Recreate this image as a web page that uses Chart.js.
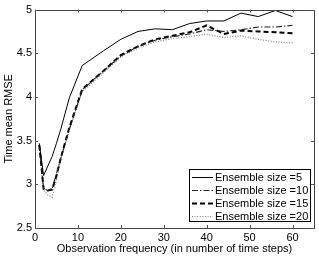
<!DOCTYPE html>
<html>
<head>
<meta charset="utf-8">
<script src="https://cdn.jsdelivr.net/npm/chart.js@4/dist/chart.umd.min.js"></script>
<style>
  html, body { margin: 0; padding: 0; background: #fff; }
  #c { display: block; }
</style>
</head>
<body>
<canvas id="c" width="319" height="256"></canvas>
<script>
// ---- data ----
const xs = [1, 2, 3, 4, 5, 6, 8, 11, 16, 20, 24, 28, 32, 36, 40, 44, 48, 52, 56, 60];
const ens5  = [3.47, 3.10, 3.21, 3.32, 3.47, 3.63, 3.99, 4.36, 4.53, 4.66, 4.75, 4.78, 4.77, 4.84, 4.87, 4.87, 4.96, 4.92, 4.99, 4.92];
const ens10 = [3.45, 2.95, 2.93, 2.95, 3.12, 3.30, 3.63, 4.08, 4.30, 4.47, 4.58, 4.65, 4.69, 4.72, 4.77, 4.75, 4.77, 4.80, 4.80, 4.82];
const ens15 = [3.45, 2.95, 2.93, 2.94, 3.10, 3.30, 3.65, 4.09, 4.30, 4.48, 4.58, 4.66, 4.70, 4.74, 4.82, 4.72, 4.76, 4.75, 4.74, 4.73];
const ens20 = [3.43, 2.93, 2.88, 2.85, 3.05, 3.28, 3.62, 4.06, 4.28, 4.46, 4.56, 4.63, 4.67, 4.69, 4.72, 4.68, 4.70, 4.66, 4.63, 4.62];
const seriesLabels = ['Ensemble size =5', 'Ensemble size =10', 'Ensemble size =15', 'Ensemble size =20'];
const xTicks = [0, 10, 20, 30, 40, 50, 60];
const xTickLabels = ['0', '10', '20', '30', '40', '50', '60'];
const yTicks = [2.5, 3, 3.5, 4, 4.5, 5];
const yTickLabels = ['2.5', '3', '3.5', '4', '4.5', '5'];
const xTitle = 'Observation frequency (in number of time steps)';
const yTitle = 'Time mean RMSE';

const FONT = "'Liberation Sans', Arial, Helvetica, sans-serif";

function pts(ys) { return xs.map((x, i) => ({ x: x, y: ys[i] })); }

const styles = [
  { color: '#000', width: 1, dash: [] },
  { color: '#222', width: 1.1, dash: [6, 2, 1.5, 2] },
  { color: '#000', width: 2, dash: [5, 3] },
  { color: '#808080', width: 1.2, dash: [1, 1.6] }
];
const allSeries = [ens5, ens10, ens15, ens20];

const datasets = allSeries.map((ys, i) => ({
  label: seriesLabels[i],
  data: pts(ys),
  borderColor: styles[i].color,
  backgroundColor: styles[i].color,
  borderWidth: styles[i].width,
  borderDash: styles[i].dash,
  pointRadius: 0,
  tension: 0,
  fill: false
}));

const framePlugin = {
  id: 'frame',
  afterDraw(chart) {
    const ctx = chart.ctx;
    const a = chart.chartArea;
    const xs_ = chart.scales.x, ys_ = chart.scales.y;
    ctx.save();
    ctx.strokeStyle = '#444';
    ctx.lineWidth = 1;
    ctx.setLineDash([]);
    ctx.strokeRect(Math.round(a.left) + 0.5, Math.round(a.top) + 0.5,
                   Math.round(a.right - a.left), Math.round(a.bottom - a.top));
    ctx.strokeStyle = '#555';
    const L = 3;
    xTicks.forEach(v => {
      const px = Math.round(xs_.getPixelForValue(v)) + 0.5;
      ctx.beginPath();
      ctx.moveTo(px, a.bottom); ctx.lineTo(px, a.bottom - L);
      ctx.moveTo(px, a.top); ctx.lineTo(px, a.top + L);
      ctx.stroke();
    });
    yTicks.forEach(v => {
      const py = Math.round(ys_.getPixelForValue(v)) + 0.5;
      ctx.beginPath();
      ctx.moveTo(a.left, py); ctx.lineTo(a.left + L, py);
      ctx.moveTo(a.right, py); ctx.lineTo(a.right - L, py);
      ctx.stroke();
    });

    // legend box
    const bw = 121, rowH = 13, bh = 52;
    const bx = Math.round(a.right - 4 - bw), by = Math.round(a.bottom - 7 - bh);
    ctx.fillStyle = '#fff';
    ctx.fillRect(bx, by, bw, bh);
    ctx.strokeStyle = '#000';
    ctx.lineWidth = 1;
    ctx.strokeRect(bx + 0.5, by + 0.5, bw, bh);
    ctx.font = '11px ' + FONT;
    ctx.textBaseline = 'middle';
    ctx.textAlign = 'left';
    chart.data.datasets.forEach((ds, i) => {
      const cy = by + 8 + i * rowH;
      ctx.beginPath();
      ctx.strokeStyle = ds.borderColor;
      ctx.lineWidth = ds.borderWidth;
      ctx.setLineDash(ds.borderDash || []);
      ctx.moveTo(bx + 3, cy + 0.5); ctx.lineTo(bx + 24, cy + 0.5);
      ctx.stroke();
      ctx.setLineDash([]);
      ctx.fillStyle = '#000';
      ctx.fillText(ds.label, bx + 26, cy + 0.5);
    });
    ctx.restore();
  }
};

new Chart(document.getElementById('c'), {
  type: 'line',
  data: { datasets: datasets },
  options: {
    responsive: false,
    devicePixelRatio: 1,
    animation: false,
    layout: { padding: { top: 9, right: 5, left: 0, bottom: 0 } },
    plugins: { legend: { display: false }, tooltip: { enabled: false } },
    scales: {
      x: {
        type: 'linear',
        min: 0, max: 65,
        grid: { display: false, drawTicks: false },
        border: { display: false },
        afterBuildTicks(scale) { scale.ticks = xTicks.map(v => ({ value: v })); },
        afterFit(scale) { scale.height = 28; },
        ticks: {
          padding: 3,
          color: '#000',
          maxRotation: 0,
          autoSkip: false,
          font: { family: FONT, size: 11 },
          callback: (v) => xTickLabels[xTicks.indexOf(v)]
        },
        title: { display: true, text: xTitle, color: '#000', padding: { top: 0, bottom: 0 },
                 font: { family: FONT, size: 11 } }
      },
      y: {
        type: 'linear',
        min: 2.5, max: 5,
        grid: { display: false, drawTicks: false },
        border: { display: false },
        afterBuildTicks(scale) { scale.ticks = yTicks.map(v => ({ value: v })); },
        afterFit(scale) { scale.width = 35; },
        ticks: {
          padding: 3,
          color: '#000',
          autoSkip: false,
          font: { family: FONT, size: 11 },
          callback: (v) => yTickLabels[yTicks.indexOf(v)]
        },
        title: { display: true, text: yTitle, color: '#000', padding: { top: 2, bottom: 0 },
                 font: { family: FONT, size: 11 } }
      }
    }
  },
  plugins: [framePlugin]
});
</script>
</body>
</html>
